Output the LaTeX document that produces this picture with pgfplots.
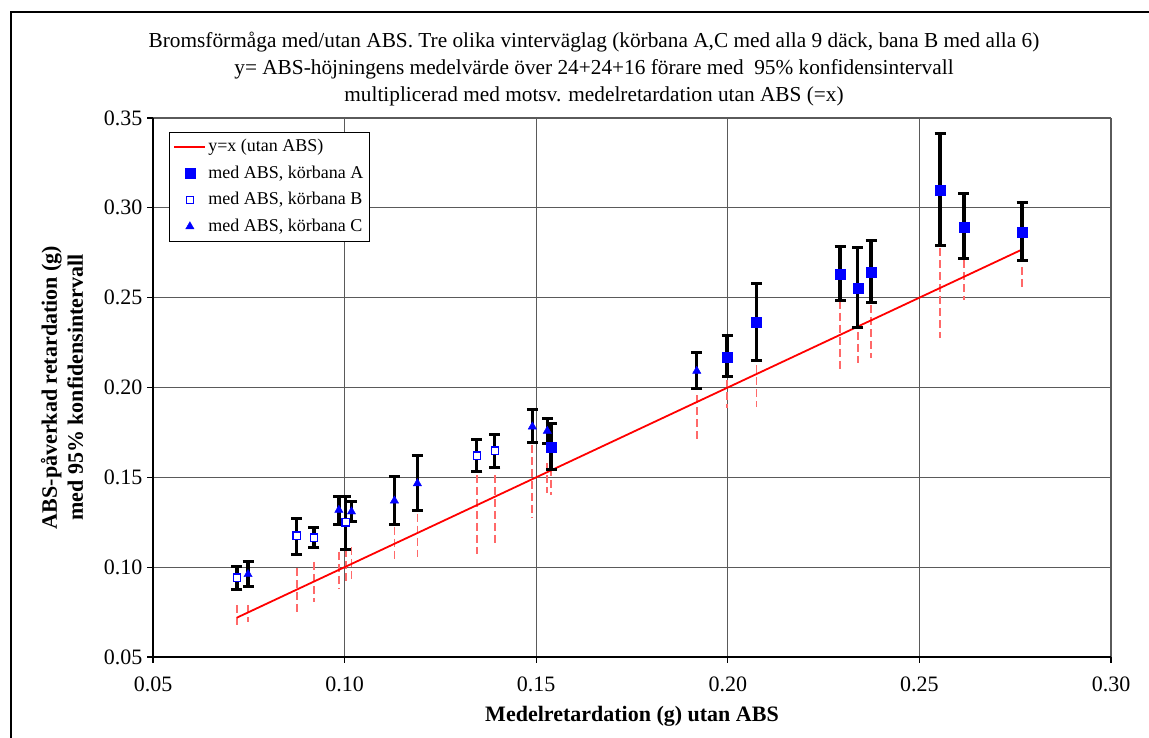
\documentclass[border=0pt]{standalone}
\usepackage{pgfplots}
\pgfplotsset{compat=1.18}
\usepackage{pgfplotstable}
\usepackage{fontspec}
\setmainfont{Liberation Serif}
\definecolor{gridgray}{RGB}{90,90,90}
\definecolor{dashred}{RGB}{255,105,105}
\definecolor{absblue}{RGB}{0,0,255}

% series A: filled squares
\pgfplotstableread{
x      y      ep     em
0.1539 0.1670 0.0127 0.0124
0.1998 0.2171 0.0121 0.0111
0.2075 0.2366 0.0215 0.0215
0.2293 0.2631 0.0156 0.0148
0.2339 0.2555 0.0223 0.0220
0.2374 0.2642 0.0175 0.0168
0.2554 0.3099 0.0315 0.0306
0.2616 0.2894 0.0183 0.0176
0.2768 0.2865 0.0165 0.0156
}\dataA
% series B: open squares
\pgfplotstableread{
x      y      ep     em
0.0719 0.0941 0.0065 0.0064
0.0875 0.1175 0.0097 0.0102
0.0920 0.1164 0.0058 0.0054
0.1003 0.1250 0.0146 0.0153
0.1345 0.1620 0.0093 0.0085
0.1392 0.1648 0.0093 0.0095
}\dataB
% series C: triangles
\pgfplotstableread{
x      y      ep     em
0.0748 0.0960 0.0074 0.0069
0.0985 0.1318 0.0078 0.0078
0.1018 0.1309 0.0055 0.0057
0.1130 0.1370 0.0133 0.0130
0.1190 0.1466 0.0153 0.0148
0.1490 0.1782 0.0093 0.0090
0.1529 0.1758 0.0070 0.0070
0.1919 0.2092 0.0101 0.0099
}\dataC
% y=x with red dashed intervals (top hi, length len)
\pgfplotstableread{
x      hi     len
0.0719 0.0789 0.0121
0.0748 0.0789 0.0092
0.0875 0.0995 0.0250
0.0920 0.1030 0.0222
0.0985 0.1086 0.0204
0.1003 0.1100 0.0200
0.1018 0.1113 0.0194
0.1130 0.1225 0.0185
0.1190 0.1298 0.0240
0.1345 0.1513 0.0440
0.1392 0.1513 0.0400
0.1490 0.1680 0.0401
0.1529 0.1580 0.0167
0.1539 0.1550 0.0150
0.1919 0.1958 0.0250
0.1998 0.2041 0.0155
0.2075 0.2125 0.0234
0.2293 0.2483 0.0395
0.2339 0.2310 0.0176
0.2374 0.2459 0.0297
0.2554 0.2774 0.0499
0.2616 0.2709 0.0222
0.2768 0.2672 0.0120
}\dataR

\begin{document}
\begin{tikzpicture}
\useasboundingbox (0pt,0pt) rectangle (1149pt,738pt);
\draw[line width=2.2pt] (11pt,-10pt) -- (11pt,726pt) -- (1160pt,726pt);
\node[align=center, font=\fontsize{21.3}{27}\selectfont] at (594pt,669pt)
 {Bromsförmåga med/utan ABS. Tre olika vinterväglag (körbana A,C med alla 9 däck, bana B med alla 6)\\
  y= ABS-höjningens medelvärde över 24+24+16 förare med \ 95\% konfidensintervall\\
  multiplicerad med motsv. medelretardation utan ABS (=x)};
\begin{axis}[
  at={(153pt,81pt)}, anchor=south west,
  scale only axis, width=958pt, height=539pt,
  xmin=0.05, xmax=0.30, ymin=0.05, ymax=0.35,
  xtick={0.05,0.1,0.15,0.2,0.25,0.3},
  ytick={0.05,0.1,0.15,0.2,0.25,0.3,0.35},
  scaled ticks=false,
  xticklabel={\pgfmathprintnumber[fixed,fixed zerofill,precision=2,assume math mode=true]{\tick}},
  yticklabel={\pgfmathprintnumber[fixed,fixed zerofill,precision=2,assume math mode=true]{\tick}},
  tick label style={font=\fontsize{22}{24}\selectfont},
  xticklabel style={yshift=-10pt},
  yticklabel style={xshift=-1pt},
  axis x line*=bottom, axis y line*=left,
  axis line style={line width=1.6pt, black},
  tick align=outside, major tick length=6pt,
  tick style={line width=1.2pt, black},
  grid=major, major grid style={line width=1.1pt, gridgray},
  xlabel={Medelretardation (g) utan ABS},
  ylabel={ABS-påverkad retardation (g)\\med 95\% konfidensintervall},
  xlabel style={at={(axis description cs:0.5,-0.1095)}, anchor=center, font=\bfseries\fontsize{22}{26}\selectfont},
  ylabel style={at={(axis description cs:-0.095,0.5)}, anchor=center, align=center, font=\bfseries\fontsize{22}{26}\selectfont},
  legend image code/.code={\draw[mark repeat=2,mark phase=2,#1] plot coordinates {(0pt,0pt) (15.5pt,0pt) (31pt,0pt)};},
  legend cell align=left,
  legend style={at={(axis description cs:0.0167,0.974)}, anchor=north west,
    font=\fontsize{18}{20}\selectfont, draw=black, line width=1pt, fill=white,
    row sep=5.5pt, inner sep=4pt,
    nodes={inner sep=2pt, text height=13pt, text depth=4pt}},
]
\addplot[forget plot, only marks, mark=*, mark size=0pt, mark options={opacity=0},
  error bars/.cd, y dir=minus, y explicit, error mark=none,
  error bar style={dashred, line width=1.8pt, dash pattern=on 8pt off 4pt}]
  table[x=x, y=hi, y error minus=len] {\dataR};
\addplot[red, line width=1.8pt, mark=none] table[x=x, y=x] {\dataR};
\addlegendentry{y=x (utan ABS)}
\addplot[only marks, mark=square*, mark size=5pt, mark options={absblue, fill=absblue, line width=0.4pt},
  error bars/.cd, y dir=both, y explicit, error mark=-,
  error bar style={black, line width=3.3pt},
  error mark options={black, line width=3pt, mark size=5.5pt, rotate=90}]
  table[x=x, y=y, y error plus=ep, y error minus=em] {\dataA};
\addlegendentry{med ABS, körbana A}
\addplot[only marks, mark=square*, mark size=3.7pt, mark options={draw=absblue, fill=white, line width=1.2pt},
  error bars/.cd, y dir=both, y explicit, error mark=-,
  error bar style={black, line width=3.3pt},
  error mark options={black, line width=3pt, mark size=5.5pt, rotate=90}]
  table[x=x, y=y, y error plus=ep, y error minus=em] {\dataB};
\addlegendentry{med ABS, körbana B}
\addplot[only marks, mark=triangle*, mark size=4.8pt, mark options={absblue, fill=absblue, line width=0.4pt},
  error bars/.cd, y dir=both, y explicit, error mark=-,
  error bar style={black, line width=3.3pt},
  error mark options={black, line width=3pt, mark size=5.5pt, rotate=90}]
  table[x=x, y=y, y error plus=ep, y error minus=em] {\dataC};
\addlegendentry{med ABS, körbana C}
\end{axis}
\end{tikzpicture}
\end{document}
